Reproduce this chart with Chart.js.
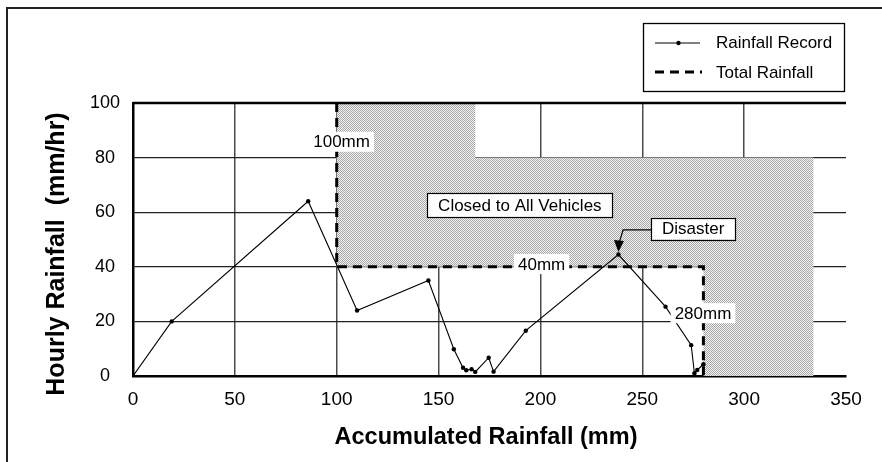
<!DOCTYPE html>
<html>
<head>
<meta charset="utf-8">
<script src="https://cdn.jsdelivr.net/npm/chart.js@4.4.1/dist/chart.umd.min.js"></script>
<style>
  html, body { margin: 0; padding: 0; background: #fff; }
  #wrap { width: 882px; height: 462px; }
</style>
</head>
<body>
<div id="wrap"><canvas id="c" width="882" height="462"></canvas></div>
<script>
// Rainfall record: accumulated rainfall (mm) vs hourly rainfall (mm/hr)
const accumulated = [0, 19, 86, 110, 145, 157.5, 162, 163.6, 166.2, 168, 174.6, 177, 192.8, 238.3, 261.4, 274, 275.6, 277, 280];
const hourly      = [0, 20, 64, 24, 35, 9.8, 3, 2.1, 2.5, 1.5, 6.7, 1.6, 16.6, 44.5, 25.4, 11.3, 1, 2.2, 4.3];

// Total rainfall threshold path (100 mm, 40 mm/hr, 280 mm)
const totalX = [100, 100, 280, 280];
const totalY = [100, 40, 40, 0];

// Zone closed to all vehicles
const closedX = [100, 168, 168, 334, 334, 280, 280, 100];
const closedY = [100, 100, 80, 80, 0, 0, 40, 40];

// Axis ticks
const xTicks = [0, 50, 100, 150, 200, 250, 300, 350];
const yTicks = [0, 20, 40, 60, 80, 100];

// Threshold labels
const noteTexts = ['100mm', '40mm', '280mm'];
const noteX = [102.4, 200.6, 279.8];
const noteY = [85.8, 41, 23];

// Boxed callouts
const boxTexts = ['Closed to All Vehicles', 'Disaster'];
const boxX = [189.9, 275];
const boxY = [62.6, 54];

// Disaster arrow path (box edge -> corner -> tip)
const arrowX = [254.3, 240.6, 238.3];
const arrowY = [53.5, 53.5, 45.4];

const FONT = 'Arial, "Liberation Sans", Helvetica, sans-serif';

function hatchPattern() {
  const c = document.createElement('canvas');
  c.width = 2; c.height = 2;
  const g = c.getContext('2d');
  g.fillStyle = '#f4f4f4'; g.fillRect(0, 0, 2, 2);
  g.fillStyle = '#a6a6a6';
  g.fillRect(0, 0, 1, 1); g.fillRect(1, 1, 1, 1);
  return document.getElementById('c').getContext('2d').createPattern(c, 'repeat');
}

const pts = (xs, ys) => xs.map((x, i) => ({ x: x, y: ys[i] }));

const decorations = {
  id: 'decorations',
  beforeDraw(chart) {
    const ctx = chart.ctx;
    ctx.save();
    ctx.strokeStyle = '#222';
    ctx.lineWidth = 2;
    ctx.beginPath();
    ctx.moveTo(7, 462); ctx.lineTo(7, 8); ctx.lineTo(882, 8);
    ctx.stroke();
    ctx.restore();
  },
  afterDraw(chart) {
    const ctx = chart.ctx;
    const xs = chart.scales.x, ys = chart.scales.y;
    const a = chart.chartArea;
    ctx.save();

    // top frame of plot
    ctx.strokeStyle = '#000';
    ctx.lineWidth = 2.5;
    ctx.beginPath();
    ctx.moveTo(a.left, a.top); ctx.lineTo(a.right, a.top);
    ctx.stroke();

    ctx.font = '17px ' + FONT;
    ctx.textBaseline = 'middle';
    ctx.textAlign = 'center';

    // plain white labels on the threshold path
    noteTexts.forEach((t, i) => {
      const px = xs.getPixelForValue(noteX[i]);
      const py = ys.getPixelForValue(noteY[i]);
      const w = ctx.measureText(t).width + 8;
      ctx.fillStyle = '#fff';
      ctx.fillRect(px - w / 2, py - 10, w, 20);
      ctx.fillStyle = '#000';
      ctx.fillText(t, px, py + 1);
    });

    // boxed callouts
    boxTexts.forEach((t, i) => {
      const px = xs.getPixelForValue(boxX[i]);
      const py = ys.getPixelForValue(boxY[i]);
      const w = ctx.measureText(t).width + 22;
      const h = i === 0 ? 24 : 22;
      ctx.fillStyle = '#fff';
      ctx.fillRect(px - w / 2, py - h / 2, w, h);
      ctx.strokeStyle = '#000';
      ctx.lineWidth = 1.2;
      ctx.strokeRect(Math.round(px - w / 2) + 0.5, Math.round(py - h / 2) + 0.5, Math.round(w), h);
      ctx.fillStyle = '#000';
      ctx.fillText(t, px, py + 1);
    });

    // arrow to the disaster point
    const ax = arrowX.map(v => xs.getPixelForValue(v));
    const ay = arrowY.map(v => ys.getPixelForValue(v));
    ctx.strokeStyle = '#000';
    ctx.lineWidth = 1.2;
    ctx.beginPath();
    ctx.moveTo(ax[0], ay[0]); ctx.lineTo(ax[1], ay[1]); ctx.lineTo(ax[2] + 0.6, ay[2] - 9);
    ctx.stroke();
    ctx.fillStyle = '#000';
    ctx.beginPath();
    ctx.moveTo(ax[2], ay[2]);
    ctx.lineTo(ax[2] - 4.5, ay[2] - 12);
    ctx.lineTo(ax[2] + 5.5, ay[2] - 11);
    ctx.closePath();
    ctx.fill();

    // axis titles
    ctx.fillStyle = '#000';
    ctx.textAlign = 'center';
    ctx.font = 'bold 23.5px ' + FONT;
    ctx.fillText('Accumulated Rainfall (mm)', 486, 438);
    ctx.save();
    ctx.translate(57, 254);
    ctx.rotate(-Math.PI / 2);
    ctx.font = 'bold 25px ' + FONT;
    ctx.fillText('Hourly Rainfall  (mm/hr)', 0, 0);
    ctx.restore();

    // legend
    ctx.strokeStyle = '#000';
    ctx.lineWidth = 1.3;
    ctx.strokeRect(643.5, 23.5, 201, 68);
    ctx.lineWidth = 1;
    ctx.beginPath(); ctx.moveTo(655, 43); ctx.lineTo(700, 43); ctx.stroke();
    ctx.fillStyle = '#000';
    ctx.beginPath(); ctx.arc(678.5, 43, 2.2, 0, Math.PI * 2); ctx.fill();
    ctx.lineWidth = 3;
    ctx.setLineDash([9, 6]);
    ctx.beginPath(); ctx.moveTo(655, 72); ctx.lineTo(702, 72); ctx.stroke();
    ctx.setLineDash([]);
    ctx.font = '17px ' + FONT;
    ctx.textAlign = 'left';
    ctx.fillText('Rainfall Record', 716, 43);
    ctx.fillText('Total Rainfall', 716, 73);

    ctx.restore();
  }
};

new Chart(document.getElementById('c'), {
  type: 'scatter',
  data: {
    datasets: [
      {
        label: 'Rainfall Record',
        data: pts(accumulated, hourly),
        showLine: true,
        borderColor: '#000',
        borderWidth: 1.1,
        pointRadius: 2.2,
        pointBackgroundColor: '#000',
        pointBorderWidth: 0,
        tension: 0,
        order: 1
      },
      {
        label: 'Total Rainfall',
        data: pts(totalX, totalY),
        showLine: true,
        borderColor: '#000',
        borderWidth: 3,
        borderDash: [9, 6],
        pointRadius: 0,
        tension: 0,
        order: 2
      },
      {
        label: 'Closed to All Vehicles',
        data: pts(closedX, closedY),
        showLine: true,
        borderWidth: 0,
        borderColor: 'rgba(0,0,0,0)',
        backgroundColor: hatchPattern(),
        fill: 'shape',
        pointRadius: 0,
        tension: 0,
        order: 3
      }
    ]
  },
  options: {
    responsive: false,
    animation: false,
    devicePixelRatio: 1,
    layout: { padding: { top: 103, right: 36, left: 0, bottom: 0 } },
    plugins: { legend: { display: false }, tooltip: { enabled: false } },
    scales: {
      x: {
        type: 'linear',
        min: 0, max: 350,
        z: 1,
        afterFit: s => { s.height = 86; },
        afterBuildTicks: s => { s.ticks = xTicks.map(v => ({ value: v })); },
        grid: {
          drawTicks: false,
          color: ctx => (ctx.tick && (ctx.tick.value === 350 || ctx.tick.value === 0)) ? 'rgba(0,0,0,0)' : '#4a4a4a',
          lineWidth: 1.5
        },
        border: { display: true, color: '#000', width: 2.5 },
        ticks: { padding: 12, color: '#000', font: { size: 19, family: FONT }, maxRotation: 0, autoSkip: false }
      },
      y: {
        type: 'linear',
        min: 0, max: 100,
        z: 1,
        afterFit: s => { s.width = 133; },
        afterBuildTicks: s => { s.ticks = yTicks.map(v => ({ value: v })); },
        grid: {
          drawTicks: false,
          color: ctx => (ctx.tick && (ctx.tick.value === 0 || ctx.tick.value === 100)) ? 'rgba(0,0,0,0)' : '#222',
          lineWidth: 1.2
        },
        border: { display: true, color: '#000', width: 2.5 },
        ticks: { padding: 13, crossAlign: 'center', color: '#000', font: { size: 18, family: FONT }, autoSkip: false }
      }
    }
  },
  plugins: [decorations]
});
</script>
</body>
</html>
